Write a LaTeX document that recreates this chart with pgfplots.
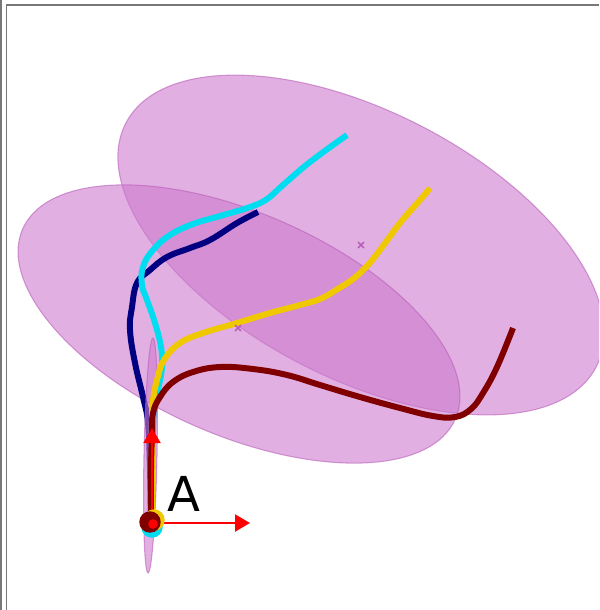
\documentclass[border=0pt]{standalone}
\usepackage{pgfplots}
\pgfplotsset{compat=1.18}
\usepackage{fontspec}
\setmainfont{DejaVu Sans}
\usetikzlibrary{arrows.meta}

\definecolor{ellfill}{RGB}{205,122,205}
\definecolor{elledge}{RGB}{185,95,185}
\definecolor{trajnavy}{RGB}{0,0,128}
\definecolor{trajcyan}{RGB}{0,220,240}
\definecolor{trajyellow}{RGB}{240,200,0}
\definecolor{trajmaroon}{RGB}{128,0,0}
\definecolor{framegray}{RGB}{120,120,120}

\begin{document}
\begin{tikzpicture}
\begin{axis}[
  scale only axis, width=5.99cm, height=6.10cm,
  xmin=0, xmax=599, ymin=0, ymax=610, y dir=reverse,
  hide axis, clip=true,
]
% frame
\draw[framegray, line width=0.5pt] (axis cs:1,0) -- (axis cs:1,610);
\draw[framegray, line width=0.55pt] (axis cs:6.5,610) -- (axis cs:6.5,5) -- (axis cs:599,5);

% uncertainty ellipses
\fill[ellfill, fill opacity=0.6, draw=elledge, draw opacity=0.6, line width=0.3pt,
      rotate around={-27.4:(axis cs:361,245)}]
  (axis cs:361,245) ellipse [x radius=2.649cm, y radius=1.333cm];
\fill[ellfill, fill opacity=0.6, draw=elledge, draw opacity=0.6, line width=0.3pt,
      rotate around={-23.7:(axis cs:239,324)}]
  (axis cs:239,324) ellipse [x radius=2.363cm, y radius=1.11cm];
\addplot[only marks, mark=x, mark size=1.2pt, elledge, mark options={line width=0.45pt}]
  coordinates {(361,245) (238,328)};

% trajectories
\addplot[trajnavy, line width=1.7pt, smooth, tension=0.7] coordinates {
  (151,522) (150,470) (148,423) (143,397) (135,363) (130,330) (132,307)
  (137,283) (150,270) (167,257) (190,248) (210,240) (237,223) (258,212)};
\addplot[trajcyan, line width=1.7pt, smooth, tension=0.7] coordinates {
  (152,522) (152,470) (153,430) (155,405) (159,385) (162,367) (161,347)
  (155,323) (147,300) (142,285) (143,267) (153,250) (170,235) (193,224)
  (220,216) (250,207) (267,199) (283,185) (310,162) (347,135)};

\fill[ellfill, fill opacity=0.6, draw=elledge, draw opacity=0.6, line width=0.3pt,
      rotate around={88.8:(axis cs:150.5,455.5)}]
  (axis cs:150.5,455.5) ellipse [x radius=1.175cm, y radius=0.065cm];

\addplot[trajyellow, line width=1.7pt, smooth, tension=0.7] coordinates {
  (152,522) (152,470) (152,420) (153,400) (157,380) (164,360) (180,343)
  (203,333) (237,323) (270,313) (300,305) (320,299) (336,290) (353,279)
  (367,266) (380,250) (400,223) (420,200) (430,188)};
\addplot[trajmaroon, line width=1.7pt, smooth, tension=0.7] coordinates {
  (151,522) (151,470) (152,433) (153,413) (160,397) (173,382) (193,372)
  (220,367) (253,369) (287,375) (320,385) (360,397) (400,408) (433,416)
  (455,417) (471,409) (483,393) (497,367) (513,328)};

% frame axes at the start point
\addplot[red, line width=0.6pt, -{Triangle[length=0.15cm, width=0.17cm]}]
  coordinates {(152,523) (152,428)};
\addplot[red, line width=0.6pt, -{Triangle[length=0.15cm, width=0.17cm]}]
  coordinates {(152,523) (250,523)};

% start markers
\addplot[only marks, mark=*, mark size=2.85pt, trajcyan, mark options={draw=none}]
  coordinates {(152,527)};
\addplot[only marks, mark=*, mark size=2.85pt, trajyellow, mark options={draw=none}]
  coordinates {(154,520)};
\addplot[only marks, mark=*, mark size=2.85pt, trajmaroon, mark options={draw=none}]
  coordinates {(150,522)};
\addplot[only marks, mark=*, mark size=1.15pt, red, mark options={draw=none}]
  coordinates {(153,524)};

\node[inner sep=0pt, font=\fontsize{13.7}{16}\selectfont] at (axis cs:183.5,493.5) {A};
\end{axis}
\pgfresetboundingbox
\path (0,0) rectangle (5.99cm,6.10cm);
\end{tikzpicture}
\end{document}
